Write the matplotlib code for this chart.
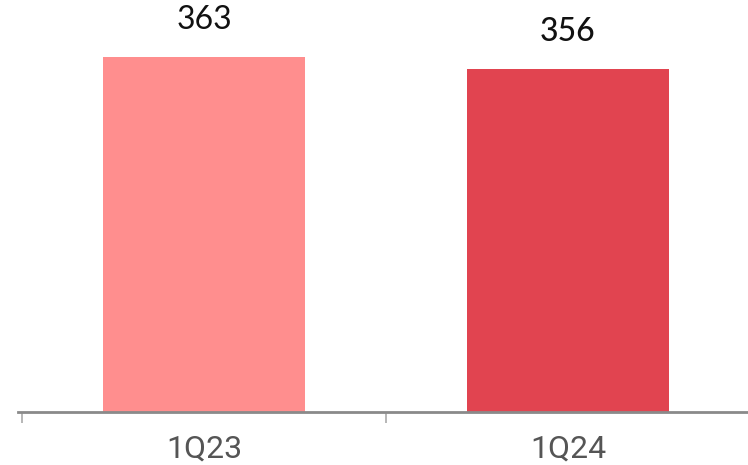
import matplotlib
matplotlib.use("Agg")
import matplotlib.pyplot as plt
from matplotlib.ticker import FixedLocator

# data
quarters = ["1Q23", "1Q24"]
values = [363, 356]
bar_colors = ["#FF8E8E", "#E14450"]
label_weights = ["normal", "medium"]

W, H, DPI = 748, 465, 100
fig = plt.figure(figsize=(W / DPI, H / DPI), dpi=DPI, facecolor="white")

# axes spans from spine start (x=18px) to the right edge, baseline at y=412px
ax = fig.add_axes([18 / W, (H - 412) / H, (W - 18) / W, 412 / H])

x = list(range(len(quarters)))
ax.bar(x, values, width=0.555, color=bar_colors, zorder=2)

ax.set_xlim(-0.511, 1.4945)
ax.set_ylim(155.9, 396.3)

for xi, v, w in zip(x, values, label_weights):
    ax.annotate(f"{v}", xy=(xi, v), xytext=(0, 37), textcoords="offset pixels",
                ha="center", va="center", fontsize=23, family="Lato",
                fontweight=w, color="#111111")

for side in ("top", "right", "left"):
    ax.spines[side].set_visible(False)
ax.spines["bottom"].set_color("#8A8A8A")
ax.spines["bottom"].set_linewidth(2)

ax.set_yticks([])
ax.set_xticks(x)
ax.set_xticklabels(quarters, fontsize=23, family="Roboto", color="#555555")
ax.tick_params(axis="x", which="major", length=0, pad=16)
ax.xaxis.set_minor_locator(FixedLocator([-0.5, 0.5]))
ax.tick_params(axis="x", which="minor", length=8, width=1.2, color="#AAAAAA")

fig.savefig("out.png", dpi=DPI, facecolor="white")
